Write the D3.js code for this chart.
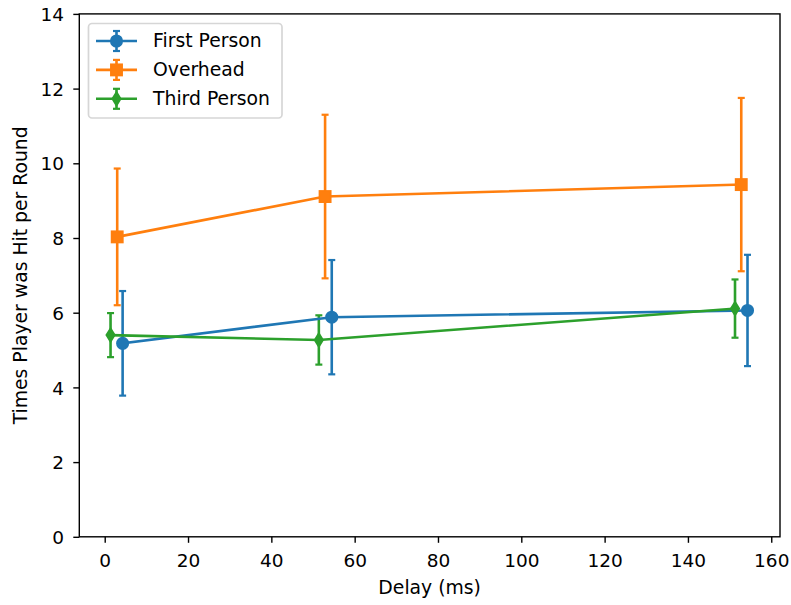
<!DOCTYPE html>
<html>
<head>
<meta charset="utf-8">
<script src="https://cdn.jsdelivr.net/npm/d3@7"></script>
<style>
  html, body { margin: 0; padding: 0; background: #fff; }
  svg { display: block; }
  text { font-family: "DejaVu Sans", sans-serif; fill: #000; }
</style>
</head>
<body>
<svg id="chart" width="791" height="605"></svg>
<script>
// Hit counts per round by camera view and network delay (mean ± error)
const seriesNames = ["First Person", "Overhead", "Third Person"];
const seriesColors = ["#1f77b4", "#ff7f0e", "#2ca02c"];
const seriesMarkers = ["circle", "square", "thinDiamond"];

const firstPersonDelay = [4.3, 54.5, 154.3];
const firstPersonMean = [5.18, 5.88, 6.06];
const firstPersonErr = [1.40, 1.53, 1.49];

const overheadDelay = [3.0, 52.9, 152.8];
const overheadMean = [8.03, 9.11, 9.43];
const overheadErr = [1.83, 2.19, 2.32];

const thirdPersonDelay = [1.4, 51.4, 151.3];
const thirdPersonMean = [5.40, 5.27, 6.11];
const thirdPersonErr = [0.59, 0.66, 0.78];

const xTicks = [0, 20, 40, 60, 80, 100, 120, 140, 160];
const yTicks = [0, 2, 4, 6, 8, 10, 12, 14];

const series = [
  { x: firstPersonDelay, y: firstPersonMean, e: firstPersonErr },
  { x: overheadDelay, y: overheadMean, e: overheadErr },
  { x: thirdPersonDelay, y: thirdPersonMean, e: thirdPersonErr }
].map((s, i) => ({
  name: seriesNames[i], color: seriesColors[i], marker: seriesMarkers[i],
  pts: s.x.map((xv, j) => ({ x: xv, y: s.y[j], e: s.e[j] }))
}));

const fontSize = 18.8;
const tickFontSize = 18.5;
const lw = 2.6;
const capHalf = 3.5;
const plot = { left: 79.3, right: 780, top: 13.9, bottom: 536.8 };

const svg = d3.select("#chart");
const x = d3.scaleLinear().domain([-6.1, 162.1]).range([plot.left, plot.right]);
const y = d3.scaleLinear().domain([0, 14]).range([plot.bottom, plot.top]);

// Axes
const xAxis = svg.append("g")
  .attr("transform", `translate(0,${plot.bottom})`)
  .call(d3.axisBottom(x).tickValues(xTicks).tickFormat(d3.format("d")).tickSizeInner(6).tickSizeOuter(0));
const yAxis = svg.append("g")
  .attr("transform", `translate(${plot.left},0)`)
  .call(d3.axisLeft(y).tickValues(yTicks).tickFormat(d3.format("d")).tickSizeInner(6).tickSizeOuter(0));
[xAxis, yAxis].forEach(g => {
  g.select(".domain").remove();
  g.selectAll(".tick line").attr("stroke", "#000").attr("stroke-width", 1.4);
  g.selectAll(".tick text").attr("font-size", tickFontSize).attr("font-family", "DejaVu Sans, sans-serif").attr("fill", "#000");
});
xAxis.selectAll(".tick text").attr("y", 29.9).attr("dy", 0);
yAxis.selectAll(".tick text").attr("x", -15.3).attr("dy", "0.36em");

// Frame
svg.append("rect")
  .attr("x", plot.left).attr("y", plot.top)
  .attr("width", plot.right - plot.left).attr("height", plot.bottom - plot.top)
  .attr("fill", "none").attr("stroke", "#000").attr("stroke-width", 1.4);

// Axis titles
svg.append("text")
  .attr("x", (plot.left + plot.right) / 2).attr("y", 594.3)
  .attr("text-anchor", "middle").attr("font-size", fontSize)
  .text("Delay (ms)");
svg.append("text")
  .attr("transform", `translate(27.3,${(plot.top + plot.bottom) / 2}) rotate(-90)`)
  .attr("text-anchor", "middle").attr("font-size", fontSize)
  .text("Times Player was Hit per Round");

// Marker shapes
function drawMarker(g, type, cx, cy, color) {
  if (type === "circle") {
    g.append("circle").attr("cx", cx).attr("cy", cy).attr("r", 5.7)
      .attr("fill", color).attr("stroke", color).attr("stroke-width", 1.7);
  } else if (type === "square") {
    g.append("rect").attr("x", cx - 5.6).attr("y", cy - 5.6).attr("width", 11.2).attr("height", 11.2)
      .attr("fill", color).attr("stroke", color).attr("stroke-width", 1.7);
  } else {
    const h = 6.8, w = 4.2;
    g.append("path").attr("d", `M${cx},${cy - h}L${cx + w},${cy}L${cx},${cy + h}L${cx - w},${cy}Z`)
      .attr("fill", color).attr("stroke", color).attr("stroke-width", 1.7).attr("stroke-linejoin", "miter");
  }
}

function drawErrorBar(g, cx, yTop, yBot, color) {
  g.append("line").attr("x1", cx).attr("x2", cx).attr("y1", yTop).attr("y2", yBot)
    .attr("stroke", color).attr("stroke-width", lw);
  [yTop, yBot].forEach(yy => g.append("line")
    .attr("x1", cx - capHalf).attr("x2", cx + capHalf).attr("y1", yy).attr("y2", yy)
    .attr("stroke", color).attr("stroke-width", 2.2));
}

const plotArea = svg.append("g");
// Error bars sit below all data lines
series.forEach(s => {
  const g = plotArea.append("g");
  s.pts.forEach(p => drawErrorBar(g, x(p.x), y(p.y + p.e), y(p.y - p.e), s.color));
});
// Data lines and markers
const line = d3.line().x(d => x(d.x)).y(d => y(d.y));
series.forEach(s => {
  const g = plotArea.append("g");
  g.append("path").datum(s.pts).attr("d", line)
    .attr("fill", "none").attr("stroke", s.color).attr("stroke-width", lw)
    .attr("stroke-linejoin", "round").attr("stroke-linecap", "square");
  s.pts.forEach(p => drawMarker(g, s.marker, x(p.x), y(p.y), s.color));
});

// Legend
const legend = svg.append("g");
legend.append("rect")
  .attr("x", 88.5).attr("y", 23.5).attr("width", 193.5).attr("height", 94.5)
  .attr("rx", 3.5).attr("ry", 3.5)
  .attr("fill", "#fff").attr("fill-opacity", 0.8)
  .attr("stroke", "#cccccc").attr("stroke-opacity", 0.8).attr("stroke-width", 1.7);
series.forEach((s, i) => {
  const cy = 41 + i * 28.9;
  const g = legend.append("g");
  drawErrorBar(g, 116.5, cy - 10, cy + 10, s.color);
  g.append("line").attr("x1", 96).attr("x2", 137).attr("y1", cy).attr("y2", cy)
    .attr("stroke", s.color).attr("stroke-width", lw);
  drawMarker(g, s.marker, 116.5, cy, s.color);
  g.append("text").attr("x", 153).attr("y", cy + 6.3).attr("font-size", fontSize).text(s.name);
});
</script>
</body>
</html>
